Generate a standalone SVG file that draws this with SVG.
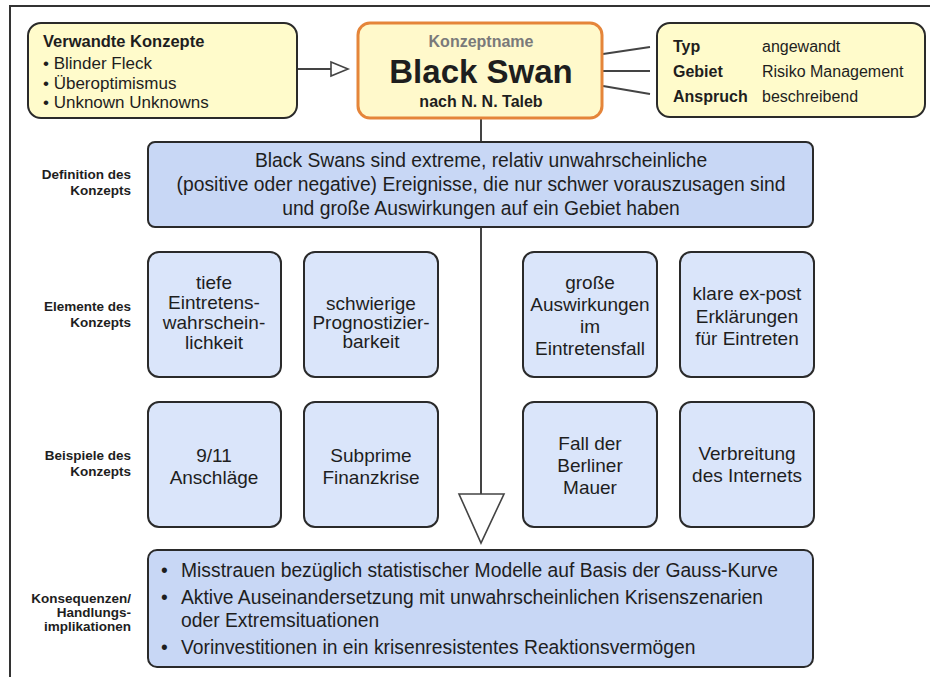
<svg xmlns="http://www.w3.org/2000/svg" width="930" height="677" viewBox="0 0 930 677">
<style>
text{font-family:"Liberation Sans",Arial,sans-serif;fill:#1e1e1e}
.b{font-weight:bold}
.lbl{font-size:13.5px;font-weight:bold;text-anchor:end}
.yel{fill:#FFFBCB;stroke:#2a2a2a;stroke-width:2}
.blu{fill:#C8D7F5;stroke:#2a2a2a;stroke-width:2}
.el{fill:#DAE5FA;stroke:#2a2a2a;stroke-width:2}
.c{text-anchor:middle}
.et{font-size:19px;text-anchor:middle}
.dt{font-size:19.3px}
.con{stroke:#444;stroke-width:2;fill:none}
</style>
<rect width="930" height="677" fill="#ffffff"/>
<g id="frame"><path d="M10,677 V6 H930" stroke="#333" stroke-width="2" fill="none"/></g>

<g id="connectors">
<path class="con" d="M297,69 H331"/>
<path d="M331,62 L348,69 L331,76 Z" fill="#fff" stroke="#444" stroke-width="1.6"/>
<path class="con" d="M603,54 L650,47 M603,71 H650 M603,86 L650,94"/>
<path class="con" d="M481,118 V142 M481,227 V494"/>
<path d="M459,494 L504,494 L481,543 Z" fill="#fff" stroke="#444" stroke-width="1.6"/>
</g>

<g id="related">
<rect class="yel" x="28" y="23" width="269" height="95" rx="13"/>
<text class="b" x="43" y="47" font-size="16.5">Verwandte Konzepte</text>
<text x="43" y="69" font-size="17">• Blinder Fleck</text>
<text x="43" y="89" font-size="17">• Überoptimismus</text>
<text x="43" y="108" font-size="17">• Unknown Unknowns</text>
</g>

<g id="concept">
<rect x="358" y="23" width="244" height="95" rx="12" fill="#FFF9CB" stroke="#E5853A" stroke-width="3"/>
<text class="b c" x="481" y="47" font-size="16" style="fill:#7a7a7a">Konzeptname</text>
<text class="b c" x="481" y="83" font-size="33">Black Swan</text>
<text class="b c" x="481" y="107" font-size="16">nach N. N. Taleb</text>
</g>

<g id="info">
<rect class="yel" x="657" y="23" width="268" height="94" rx="13"/>
<text class="b" x="673" y="52" font-size="16">Typ</text>
<text x="762" y="52" font-size="16">angewandt</text>
<text class="b" x="673" y="77" font-size="16">Gebiet</text>
<text x="762" y="77" font-size="16">Risiko Management</text>
<text class="b" x="673" y="102" font-size="16">Anspruch</text>
<text x="762" y="102" font-size="16">beschreibend</text>
</g>

<g id="definition">
<text class="lbl" x="131" y="179">Definition des</text>
<text class="lbl" x="131" y="195">Konzepts</text>
<rect class="blu" x="148" y="142" width="665" height="85" rx="7"/>
<text class="c dt" x="481" y="167">Black Swans sind extreme, relativ unwahrscheinliche</text>
<text class="c dt" x="481" y="191">(positive oder negative) Ereignisse, die nur schwer vorauszusagen sind</text>
<text class="c dt" x="481" y="215">und große Auswirkungen auf ein Gebiet haben</text>
</g>

<g id="elements-label">
<text class="lbl" x="131" y="311">Elemente des</text>
<text class="lbl" x="131" y="327">Konzepts</text>
</g>
<g id="el1">
<rect class="el" x="148" y="252" width="133" height="125" rx="11"/>
<text class="et" x="214" y="289">tiefe</text>
<text class="et" x="214" y="309">Eintretens-</text>
<text class="et" x="214" y="329">wahrschein-</text>
<text class="et" x="214" y="349">lichkeit</text>
</g>
<g id="el2">
<rect class="el" x="304" y="252" width="134" height="125" rx="11"/>
<text class="et" x="371" y="310">schwierige</text>
<text class="et" x="371" y="329">Prognostizier-</text>
<text class="et" x="371" y="348">barkeit</text>
</g>
<g id="el3">
<rect class="el" x="523" y="252" width="134" height="125" rx="11"/>
<text class="et" x="590" y="289">große</text>
<text class="et" x="590" y="311">Auswirkungen</text>
<text class="et" x="590" y="333">im</text>
<text class="et" x="590" y="355">Eintretensfall</text>
</g>
<g id="el4">
<rect class="el" x="680" y="252" width="134" height="125" rx="11"/>
<text class="et" x="747" y="300">klare ex-post</text>
<text class="et" x="747" y="323">Erklärungen</text>
<text class="et" x="747" y="345">für Eintreten</text>
</g>

<g id="examples-label">
<text class="lbl" x="131" y="460">Beispiele des</text>
<text class="lbl" x="131" y="476">Konzepts</text>
</g>
<g id="ex1">
<rect class="el" x="148" y="402" width="133" height="125" rx="11"/>
<text class="et" x="214" y="462">9/11</text>
<text class="et" x="214" y="484">Anschläge</text>
</g>
<g id="ex2">
<rect class="el" x="304" y="402" width="134" height="125" rx="11"/>
<text class="et" x="371" y="462">Subprime</text>
<text class="et" x="371" y="484">Finanzkrise</text>
</g>
<g id="ex3">
<rect class="el" x="523" y="402" width="134" height="125" rx="11"/>
<text class="et" x="590" y="450">Fall der</text>
<text class="et" x="590" y="472">Berliner</text>
<text class="et" x="590" y="494">Mauer</text>
</g>
<g id="ex4">
<rect class="el" x="680" y="402" width="134" height="125" rx="11"/>
<text class="et" x="747" y="460">Verbreitung</text>
<text class="et" x="747" y="482">des Internets</text>
</g>

<g id="consequences">
<text class="lbl" x="131" y="603">Konsequenzen/</text>
<text class="lbl" x="131" y="617">Handlungs-</text>
<text class="lbl" x="131" y="631">implikationen</text>
<rect class="blu" x="148" y="550" width="665" height="117" rx="9"/>
<text class="dt" x="161" y="577">•</text>
<text class="dt" x="181" y="577">Misstrauen bezüglich statistischer Modelle auf Basis der Gauss-Kurve</text>
<text class="dt" x="161" y="604">•</text>
<text class="dt" x="181" y="604">Aktive Auseinandersetzung mit unwahrscheinlichen Krisenszenarien</text>
<text class="dt" x="181" y="627">oder Extremsituationen</text>
<text class="dt" x="161" y="654">•</text>
<text class="dt" x="181" y="654">Vorinvestitionen in ein krisenresistentes Reaktionsvermögen</text>
</g>
</svg>
